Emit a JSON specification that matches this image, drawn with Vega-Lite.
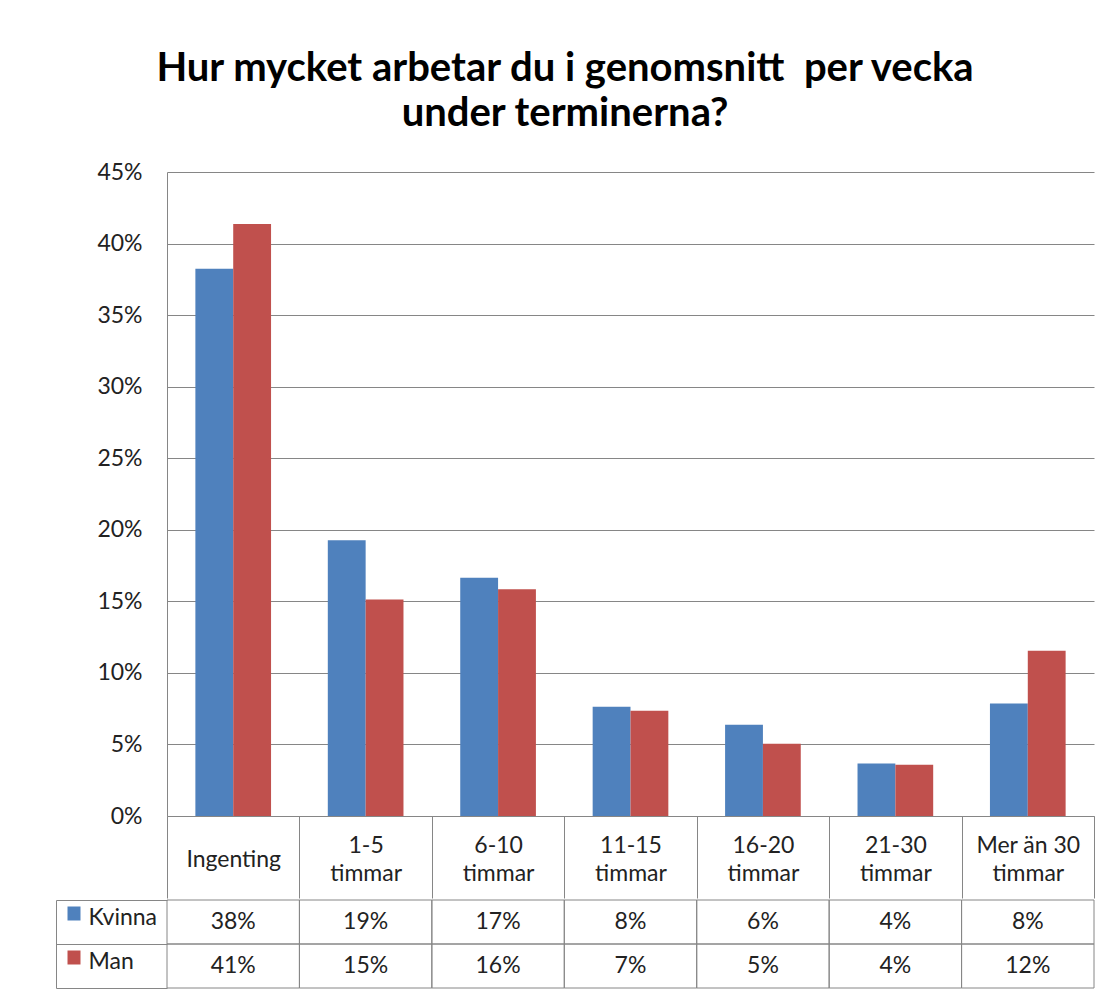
{
  "$schema": "https://vega.github.io/schema/vega-lite/v6.json",
  "padding": {"left": 55, "top": 49, "right": 14, "bottom": 4},
  "title": {
    "text": ["Hur mycket arbetar du i genomsnitt \u00a0per vecka", "under terminerna?"],
    "font": "Lato", "fontSize": 40, "fontWeight": "bold", "color": "#000000",
    "anchor": "middle", "lineHeight": 45, "offset": 27, "dx": -10
  },
  "datasets": {
    "d": [
      {"kategori": "Ingenting", "kon": "Kvinna", "andel": 0.3824},
      {"kategori": "Ingenting", "kon": "Man", "andel": 0.4136},
      {"kategori": "1-5 timmar", "kon": "Kvinna", "andel": 0.1927},
      {"kategori": "1-5 timmar", "kon": "Man", "andel": 0.1513},
      {"kategori": "6-10 timmar", "kon": "Kvinna", "andel": 0.1665},
      {"kategori": "6-10 timmar", "kon": "Man", "andel": 0.1585},
      {"kategori": "11-15 timmar", "kon": "Kvinna", "andel": 0.0763},
      {"kategori": "11-15 timmar", "kon": "Man", "andel": 0.0735},
      {"kategori": "16-20 timmar", "kon": "Kvinna", "andel": 0.0637},
      {"kategori": "16-20 timmar", "kon": "Man", "andel": 0.0505},
      {"kategori": "21-30 timmar", "kon": "Kvinna", "andel": 0.0367},
      {"kategori": "21-30 timmar", "kon": "Man", "andel": 0.0358},
      {"kategori": "Mer än 30 timmar", "kon": "Kvinna", "andel": 0.0786},
      {"kategori": "Mer än 30 timmar", "kon": "Man", "andel": 0.1155}
    ]
  },
  "spacing": 0,
  "vconcat": [
    {
      "width": 927,
      "height": 644,
      "data": {"name": "d"},
      "mark": {"type": "bar"},
      "encoding": {
        "x": {
          "field": "kategori", "type": "nominal",
          "sort": ["Ingenting", "1-5 timmar", "6-10 timmar", "11-15 timmar", "16-20 timmar", "21-30 timmar", "Mer än 30 timmar"],
          "scale": {"padding": 0},
          "axis": {
            "title": null, "labelAngle": 0, "domainColor": "#868686", "tickColor": "#868686",
            "tickSize": 82, "tickBand": "extent",
            "labelPadding": {"condition": {"test": "datum.value == 'Ingenting'", "value": -39}, "value": -53},
            "labelBaseline": "middle",
            "labelLineHeight": 28, "labelFontSize": 23, "labelFont": "Lato", "labelColor": "#222222",
            "labelExpr": "!isString(datum.value) ? '' : (datum.value == 'Ingenting' ? datum.value : [replace(datum.value, ' timmar', ''), 'timmar'])"
          }
        },
        "xOffset": {
          "field": "kon", "type": "nominal", "sort": ["Kvinna", "Man"],
          "scale": {"paddingInner": 0, "paddingOuter": 0.75}
        },
        "y": {
          "field": "andel", "type": "quantitative",
          "scale": {"domain": [0, 0.45], "nice": false},
          "axis": {
            "title": null, "format": ".0%", "values": [0, 0.05, 0.1, 0.15, 0.2, 0.25, 0.3, 0.35, 0.4, 0.45],
            "ticks": false, "labelPadding": 25, "labelFontSize": 23, "labelFont": "Lato", "labelColor": "#222222",
            "domainColor": "#868686", "gridColor": "#868686", "grid": true
          }
        },
        "color": {
          "field": "kon", "type": "nominal",
          "scale": {"domain": ["Kvinna", "Man"], "range": ["#4F81BD", "#C0504D"]},
          "legend": null
        }
      }
    },
    {
      "width": 927,
      "height": 88,
      "data": {"name": "d"},
      "layer": [
        {
          "mark": {"type": "rect", "filled": false, "stroke": "#868686", "strokeWidth": 1},
          "encoding": {
            "x": {
              "field": "kategori", "type": "nominal",
              "sort": ["Ingenting", "1-5 timmar", "6-10 timmar", "11-15 timmar", "16-20 timmar", "21-30 timmar", "Mer än 30 timmar"],
              "scale": {"padding": 0}, "axis": null
            },
            "y": {
              "field": "kon", "type": "nominal", "sort": ["Kvinna", "Man"],
              "scale": {"padding": 0},
              "axis": {
                "orient": "left", "title": null, "labels": false, "offset": 111,
                "domainColor": "#868686", "tickColor": "#868686", "tickSize": -111, "tickBand": "extent"
              }
            }
          }
        },
        {
          "mark": {"type": "text", "font": "Lato", "fontSize": 23, "color": "#222222", "baseline": "middle"},
          "encoding": {
            "x": {
              "field": "kategori", "type": "nominal",
              "sort": ["Ingenting", "1-5 timmar", "6-10 timmar", "11-15 timmar", "16-20 timmar", "21-30 timmar", "Mer än 30 timmar"],
              "scale": {"padding": 0}, "axis": null
            },
            "y": {
              "field": "kon", "type": "nominal", "sort": ["Kvinna", "Man"],
              "scale": {"padding": 0},
              "axis": {
                "orient": "left", "title": null, "offset": 87, "domain": false,
                "tickSize": 13, "tickWidth": 14, "tickOffset": -9, "labelOffset": 4,
                "tickColor": {"condition": {"test": "datum.value === 'Kvinna'", "value": "#4F81BD"}, "value": "#C0504D"},
                "labelAlign": "left", "labelPadding": -21, "labelBaseline": "middle",
                "labelFontSize": 23, "labelFont": "Lato", "labelColor": "#222222"
              }
            },
            "text": {"field": "andel", "type": "quantitative", "format": ".0%"}
          }
        }
      ],
      "resolve": {"axis": {"y": "independent"}}
    }
  ],
  "config": {"view": {"stroke": null}}
}
